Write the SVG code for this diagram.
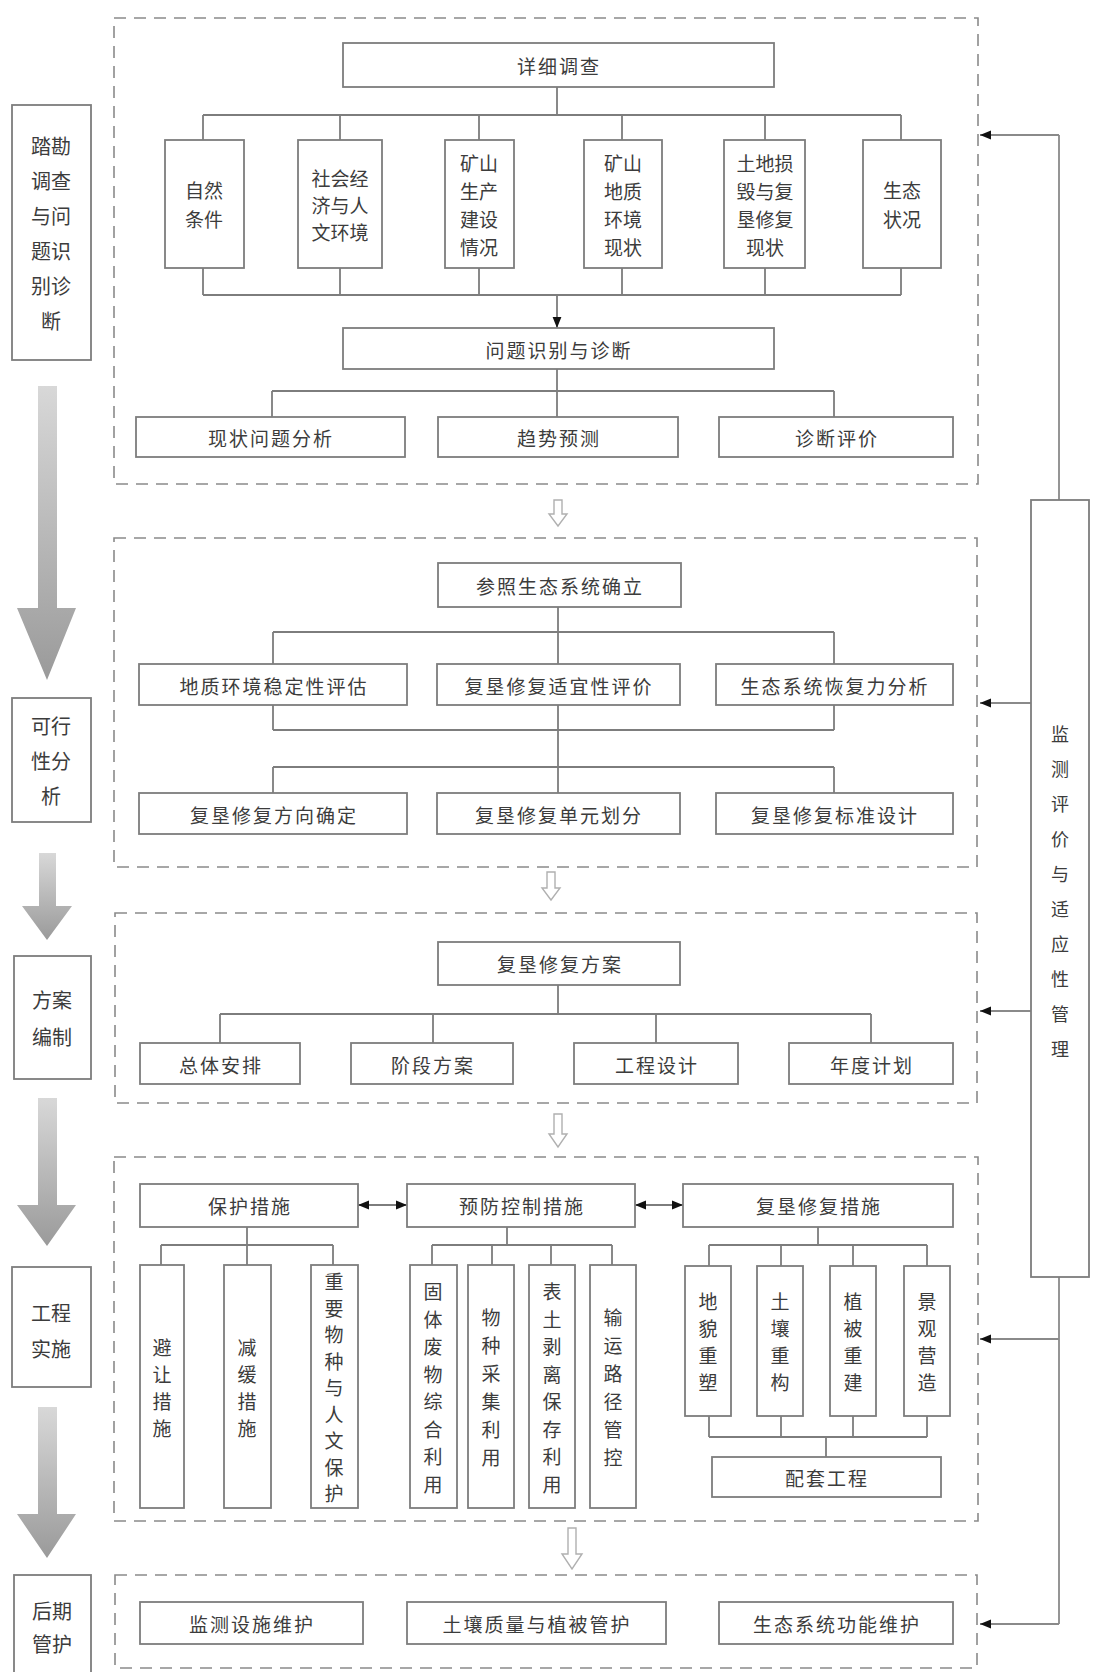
<svg xmlns="http://www.w3.org/2000/svg" width="1094" height="1672" viewBox="0 0 1094 1672">
<style>
.box{fill:#fff;stroke:#7d7d7d;stroke-width:1.8}
.ln{fill:none;stroke:#7d7d7d;stroke-width:1.8}
.dash{fill:none;stroke:#8a8a8a;stroke-width:1.6;stroke-dasharray:12 8}
.t{font-family:"Noto Sans CJK SC","Noto Sans CJK JP",sans-serif;font-size:19px;fill:#3c3c3c;text-anchor:middle;dominant-baseline:central}
.h{letter-spacing:2px}
.s{font-size:20px}
.m{font-size:18px}
.fb{fill:none;stroke:#8a8a8a;stroke-width:1.8}
.hol{fill:#fff;stroke:#b0b0b0;stroke-width:1.4}
.big{fill:url(#gg)}
</style>
<defs>
<marker id="ah" viewBox="0 0 10 10" refX="10" refY="5" markerWidth="11" markerHeight="11" markerUnits="userSpaceOnUse" orient="auto-start-reverse"><path d="M0,1 L10,5 L0,9 z" fill="#111"/></marker>
<linearGradient id="gg" x1="0" y1="0" x2="0" y2="1"><stop offset="0" stop-color="#d8d8d8"/><stop offset="1" stop-color="#9a9a9a"/></linearGradient>
</defs>
<rect width="1094" height="1672" fill="#fff"/>

<g id="sections">
<rect class="dash" x="114" y="18" width="864" height="466"/>
<rect class="dash" x="114" y="538" width="863" height="329"/>
<rect class="dash" x="115" y="913" width="862" height="190"/>
<rect class="dash" x="114" y="1157" width="864" height="364"/>
<rect class="dash" x="115" y="1575" width="862" height="93"/>
</g>

<g id="stage-arrows">
<path class="big" d="M38,386 L57,386 L57,608 L76,608 L47,680 L17,608 L38,608 Z"/>
<path class="big" d="M39,853 L56,853 L56,906 L72,906 L47,940 L22,906 L39,906 Z"/>
<path class="big" d="M38,1098 L57,1098 L57,1205 L76,1205 L47,1246 L17,1205 L38,1205 Z"/>
<path class="big" d="M38,1407 L57,1407 L57,1514 L76,1514 L47,1558 L17,1514 L38,1514 Z"/>
</g>

<g id="hollow-arrows">
<path class="hol" d="M554,500 L562,500 L562,514 L567,514 L558,526 L549,514 L554,514 Z"/>
<path class="hol" d="M547,872 L555,872 L555,888 L560,888 L551,900 L542,888 L547,888 Z"/>
<path class="hol" d="M554,1114 L562,1114 L562,1134 L567,1134 L558,1147 L549,1134 L554,1134 Z"/>
<path class="hol" d="M568,1528 L576,1528 L576,1554 L582,1554 L572,1569 L562,1554 L568,1554 Z"/>
</g>

<g id="connectors">
<!-- section 1 -->
<path class="ln" d="M557,87 V115 M203,115 H901 M203,115 V140 M340,115 V140 M479,115 V140 M622,115 V140 M765,115 V140 M901,115 V140"/>
<path class="ln" d="M203,268 V295 M340,268 V295 M479,268 V295 M622,268 V295 M765,268 V295 M901,268 V295 M203,295 H901"/>
<line class="ln" x1="557" y1="295" x2="557" y2="328" marker-end="url(#ah)"/>
<path class="ln" d="M557,369 V391 M272,391 H834 M272,391 V417 M557,391 V417 M834,391 V417"/>
<!-- section 2 -->
<path class="ln" d="M558,607 V632 M273,632 H834 M273,632 V664 M834,632 V664 M558,632 V664"/>
<path class="ln" d="M273,705 V730 M834,705 V730 M273,730 H834 M558,705 V793 M273,767 H834 M273,767 V793 M834,767 V793"/>
<!-- section 3 -->
<path class="ln" d="M558,985 V1014 M220,1014 H871 M220,1014 V1043 M433,1014 V1043 M656,1014 V1043 M871,1014 V1043"/>
<!-- section 4 -->
<line class="ln" x1="358" y1="1205" x2="407" y2="1205" marker-start="url(#ah)" marker-end="url(#ah)"/>
<line class="ln" x1="635" y1="1205" x2="683" y2="1205" marker-start="url(#ah)" marker-end="url(#ah)"/>
<path class="ln" d="M247,1227 V1245 M161,1245 H333 M161,1245 V1265 M247,1245 V1265 M333,1245 V1265"/>
<path class="ln" d="M507,1227 V1245 M432,1245 H612 M432,1245 V1265 M492,1245 V1265 M551,1245 V1265 M612,1245 V1265"/>
<path class="ln" d="M818,1227 V1245 M709,1245 H927 M709,1245 V1266 M781,1245 V1266 M853,1245 V1266 M927,1245 V1266"/>
<path class="ln" d="M709,1416 V1437 M781,1416 V1437 M853,1416 V1437 M927,1416 V1437 M709,1437 H927 M826,1437 V1457"/>
<!-- feedback -->
<path class="fb" d="M1059,135 V500 M1059,1277 V1624"/>
<line class="fb" x1="1059" y1="135" x2="980" y2="135" marker-end="url(#ah)"/>
<line class="fb" x1="1031" y1="703" x2="980" y2="703" marker-end="url(#ah)"/>
<line class="fb" x1="1031" y1="1011" x2="980" y2="1011" marker-end="url(#ah)"/>
<line class="fb" x1="1059" y1="1339" x2="980" y2="1339" marker-end="url(#ah)"/>
<line class="fb" x1="1059" y1="1624" x2="980" y2="1624" marker-end="url(#ah)"/>
</g>

<!-- left stage boxes -->
<g id="stage1"><rect class="box" x="12" y="105" width="79" height="255"/>
<text class="t s"><tspan x="51" y="145">踏勘</tspan><tspan x="51" y="180">调查</tspan><tspan x="51" y="215">与问</tspan><tspan x="51" y="250">题识</tspan><tspan x="51" y="285">别诊</tspan><tspan x="51" y="320">断</tspan></text></g>
<g id="stage2"><rect class="box" x="12" y="698" width="79" height="124"/>
<text class="t s"><tspan x="51" y="725">可行</tspan><tspan x="51" y="760">性分</tspan><tspan x="51" y="795">析</tspan></text></g>
<g id="stage3"><rect class="box" x="14" y="956" width="77" height="123"/>
<text class="t s"><tspan x="52" y="999">方案</tspan><tspan x="52" y="1036">编制</tspan></text></g>
<g id="stage4"><rect class="box" x="12" y="1267" width="79" height="120"/>
<text class="t s"><tspan x="51" y="1312">工程</tspan><tspan x="51" y="1348">实施</tspan></text></g>
<g id="stage5"><rect class="box" x="14" y="1575" width="77" height="100"/>
<text class="t s"><tspan x="52" y="1610">后期</tspan><tspan x="52" y="1643">管护</tspan></text></g>

<!-- monitoring -->
<g id="monitor"><rect class="box" x="1031" y="500" width="58" height="777"/>
<text class="t m"><tspan x="1060" y="733">监</tspan><tspan x="1060" y="768">测</tspan><tspan x="1060" y="803">评</tspan><tspan x="1060" y="838">价</tspan><tspan x="1060" y="873">与</tspan><tspan x="1060" y="908">适</tspan><tspan x="1060" y="943">应</tspan><tspan x="1060" y="978">性</tspan><tspan x="1060" y="1013">管</tspan><tspan x="1060" y="1048">理</tspan></text></g>

<!-- section 1 -->
<g id="n-survey"><rect class="box" x="343" y="43" width="431" height="44"/><text class="t h" x="559" y="65">详细调查</text></g>
<g id="n-nat"><rect class="box" x="165" y="140" width="79" height="128"/><text class="t"><tspan x="204" y="189">自然</tspan><tspan x="204" y="218">条件</tspan></text></g>
<g id="n-soc"><rect class="box" x="298" y="140" width="84" height="128"/><text class="t"><tspan x="340" y="177">社会经</tspan><tspan x="340" y="204">济与人</tspan><tspan x="340" y="231">文环境</tspan></text></g>
<g id="n-prod"><rect class="box" x="445" y="140" width="69" height="128"/><text class="t"><tspan x="479" y="162">矿山</tspan><tspan x="479" y="190">生产</tspan><tspan x="479" y="218">建设</tspan><tspan x="479" y="246">情况</tspan></text></g>
<g id="n-geo"><rect class="box" x="584" y="140" width="78" height="128"/><text class="t"><tspan x="623" y="162">矿山</tspan><tspan x="623" y="190">地质</tspan><tspan x="623" y="218">环境</tspan><tspan x="623" y="246">现状</tspan></text></g>
<g id="n-land"><rect class="box" x="724" y="140" width="81" height="128"/><text class="t"><tspan x="765" y="162">土地损</tspan><tspan x="765" y="190">毁与复</tspan><tspan x="765" y="218">垦修复</tspan><tspan x="765" y="246">现状</tspan></text></g>
<g id="n-eco"><rect class="box" x="863" y="140" width="78" height="128"/><text class="t"><tspan x="902" y="189">生态</tspan><tspan x="902" y="218">状况</tspan></text></g>
<g id="n-diag"><rect class="box" x="343" y="328" width="431" height="41"/><text class="t h" x="559" y="349">问题识别与诊断</text></g>
<g id="n-cur"><rect class="box" x="136" y="417" width="269" height="40"/><text class="t h" x="271" y="437">现状问题分析</text></g>
<g id="n-trend"><rect class="box" x="438" y="417" width="240" height="40"/><text class="t h" x="559" y="437">趋势预测</text></g>
<g id="n-eval"><rect class="box" x="719" y="417" width="234" height="40"/><text class="t h" x="837" y="437">诊断评价</text></g>

<!-- section 2 -->
<g id="n-ref"><rect class="box" x="438" y="563" width="243" height="44"/><text class="t h" x="560" y="585">参照生态系统确立</text></g>
<g id="n-stab"><rect class="box" x="139" y="664" width="268" height="41"/><text class="t h" x="274" y="685">地质环境稳定性评估</text></g>
<g id="n-suit"><rect class="box" x="437" y="664" width="243" height="41"/><text class="t h" x="559" y="685">复垦修复适宜性评价</text></g>
<g id="n-resil"><rect class="box" x="716" y="664" width="237" height="41"/><text class="t h" x="835" y="685">生态系统恢复力分析</text></g>
<g id="n-dir"><rect class="box" x="139" y="793" width="268" height="41"/><text class="t h" x="274" y="814">复垦修复方向确定</text></g>
<g id="n-unit"><rect class="box" x="437" y="793" width="243" height="41"/><text class="t h" x="559" y="814">复垦修复单元划分</text></g>
<g id="n-std"><rect class="box" x="716" y="793" width="237" height="41"/><text class="t h" x="835" y="814">复垦修复标准设计</text></g>

<!-- section 3 -->
<g id="n-plan"><rect class="box" x="438" y="942" width="242" height="43"/><text class="t h" x="560" y="963">复垦修复方案</text></g>
<g id="n-overall"><rect class="box" x="140" y="1043" width="160" height="41"/><text class="t h" x="221" y="1064">总体安排</text></g>
<g id="n-stage"><rect class="box" x="351" y="1043" width="162" height="41"/><text class="t h" x="433" y="1064">阶段方案</text></g>
<g id="n-eng"><rect class="box" x="574" y="1043" width="164" height="41"/><text class="t h" x="657" y="1064">工程设计</text></g>
<g id="n-year"><rect class="box" x="789" y="1043" width="164" height="41"/><text class="t h" x="872" y="1064">年度计划</text></g>

<!-- section 4 -->
<g id="n-protect"><rect class="box" x="140" y="1184" width="218" height="43"/><text class="t h" x="250" y="1205">保护措施</text></g>
<g id="n-prevent"><rect class="box" x="407" y="1184" width="228" height="43"/><text class="t h" x="522" y="1205">预防控制措施</text></g>
<g id="n-restore"><rect class="box" x="683" y="1184" width="270" height="43"/><text class="t h" x="819" y="1205">复垦修复措施</text></g>

<g id="n-avoid"><rect class="box" x="140" y="1265" width="44" height="243"/><text class="t"><tspan x="162" y="1346">避</tspan><tspan x="162" y="1373">让</tspan><tspan x="162" y="1400">措</tspan><tspan x="162" y="1427">施</tspan></text></g>
<g id="n-mitig"><rect class="box" x="224" y="1265" width="47" height="243"/><text class="t"><tspan x="247" y="1346">减</tspan><tspan x="247" y="1373">缓</tspan><tspan x="247" y="1400">措</tspan><tspan x="247" y="1427">施</tspan></text></g>
<g id="n-species"><rect class="box" x="311" y="1265" width="47" height="243"/><text class="t"><tspan x="334" y="1280">重</tspan><tspan x="334" y="1307">要</tspan><tspan x="334" y="1333">物</tspan><tspan x="334" y="1360">种</tspan><tspan x="334" y="1386">与</tspan><tspan x="334" y="1413">人</tspan><tspan x="334" y="1439">文</tspan><tspan x="334" y="1466">保</tspan><tspan x="334" y="1492">护</tspan></text></g>
<g id="n-waste"><rect class="box" x="410" y="1265" width="47" height="243"/><text class="t"><tspan x="433" y="1290">固</tspan><tspan x="433" y="1318">体</tspan><tspan x="433" y="1345">废</tspan><tspan x="433" y="1373">物</tspan><tspan x="433" y="1400">综</tspan><tspan x="433" y="1428">合</tspan><tspan x="433" y="1455">利</tspan><tspan x="433" y="1483">用</tspan></text></g>
<g id="n-collect"><rect class="box" x="468" y="1265" width="46" height="243"/><text class="t"><tspan x="491" y="1316">物</tspan><tspan x="491" y="1344">种</tspan><tspan x="491" y="1372">采</tspan><tspan x="491" y="1400">集</tspan><tspan x="491" y="1428">利</tspan><tspan x="491" y="1456">用</tspan></text></g>
<g id="n-topsoil"><rect class="box" x="529" y="1265" width="46" height="243"/><text class="t"><tspan x="552" y="1290">表</tspan><tspan x="552" y="1318">土</tspan><tspan x="552" y="1345">剥</tspan><tspan x="552" y="1373">离</tspan><tspan x="552" y="1400">保</tspan><tspan x="552" y="1428">存</tspan><tspan x="552" y="1455">利</tspan><tspan x="552" y="1483">用</tspan></text></g>
<g id="n-route"><rect class="box" x="590" y="1265" width="46" height="243"/><text class="t"><tspan x="613" y="1316">输</tspan><tspan x="613" y="1344">运</tspan><tspan x="613" y="1372">路</tspan><tspan x="613" y="1400">径</tspan><tspan x="613" y="1428">管</tspan><tspan x="613" y="1456">控</tspan></text></g>

<g id="n-landform"><rect class="box" x="685" y="1266" width="46" height="150"/><text class="t"><tspan x="708" y="1300">地</tspan><tspan x="708" y="1327">貌</tspan><tspan x="708" y="1354">重</tspan><tspan x="708" y="1381">塑</tspan></text></g>
<g id="n-soil"><rect class="box" x="757" y="1266" width="46" height="150"/><text class="t"><tspan x="780" y="1300">土</tspan><tspan x="780" y="1327">壤</tspan><tspan x="780" y="1354">重</tspan><tspan x="780" y="1381">构</tspan></text></g>
<g id="n-veg"><rect class="box" x="830" y="1266" width="46" height="150"/><text class="t"><tspan x="853" y="1300">植</tspan><tspan x="853" y="1327">被</tspan><tspan x="853" y="1354">重</tspan><tspan x="853" y="1381">建</tspan></text></g>
<g id="n-land2"><rect class="box" x="904" y="1266" width="46" height="150"/><text class="t"><tspan x="927" y="1300">景</tspan><tspan x="927" y="1327">观</tspan><tspan x="927" y="1354">营</tspan><tspan x="927" y="1381">造</tspan></text></g>
<g id="n-support"><rect class="box" x="712" y="1457" width="229" height="40"/><text class="t h" x="827" y="1477">配套工程</text></g>

<!-- section 5 -->
<g id="n-facility"><rect class="box" x="140" y="1602" width="223" height="42"/><text class="t h" x="252" y="1623">监测设施维护</text></g>
<g id="n-care"><rect class="box" x="407" y="1602" width="259" height="42"/><text class="t h" x="537" y="1623">土壤质量与植被管护</text></g>
<g id="n-func"><rect class="box" x="719" y="1602" width="234" height="42"/><text class="t h" x="837" y="1623">生态系统功能维护</text></g>
</svg>
